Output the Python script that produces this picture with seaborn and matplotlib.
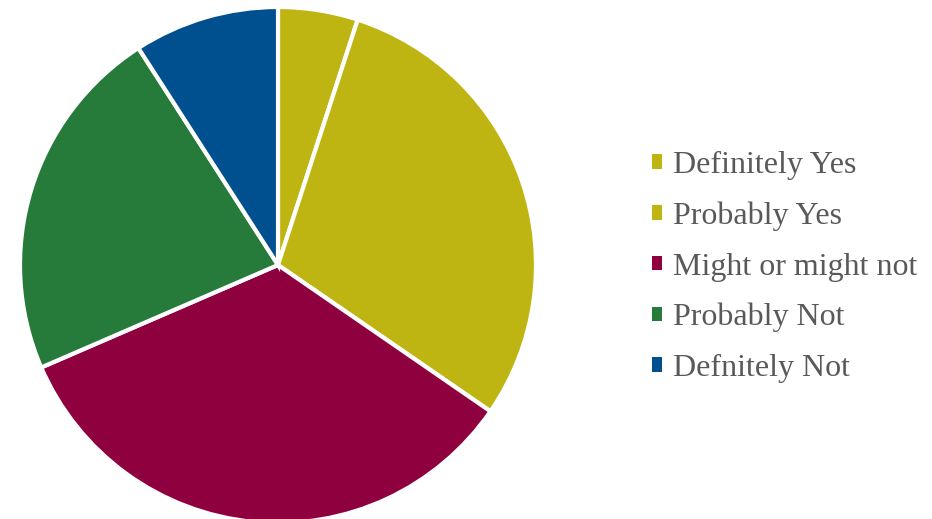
import matplotlib
matplotlib.use("Agg")
import matplotlib.pyplot as plt
from matplotlib.patches import Patch
import seaborn as sns

# Survey answers and their share of responses (%)
categories = ["Definitely Yes", "Probably Yes", "Might or might not", "Probably Not", "Defnitely Not"]
shares = [5.0, 29.6, 33.9, 22.4, 9.1]
colors = ["#BFB512", "#BFB512", "#8F003F", "#267A3A", "#00508F"]

sns.set_theme(style="white")
plt.rcParams["font.family"] = ["Liberation Serif", "DejaVu Serif"]

W, H = 932, 519
fig = plt.figure(figsize=(W / 100, H / 100), dpi=100)
fig.patch.set_facecolor("white")

cx, cy, r = 278, 265, 258
ax = fig.add_axes([(cx - r) / W, (H - cy - r) / H, 2 * r / W, 2 * r / H])
ax.pie(shares, colors=colors, startangle=90, counterclock=False, radius=1,
       wedgeprops=dict(edgecolor="white", linewidth=3))
ax.set_xlim(-1, 1)
ax.set_ylim(-1, 1)
ax.set_aspect("equal")
ax.axis("off")
for p in ax.patches:
    p.set_clip_on(False)

handles = [Patch(facecolor=c, edgecolor="none") for c in colors]
leg = fig.legend(handles, categories, loc="center left",
                 bbox_to_anchor=(652 / W, 1 - 267 / H), frameon=False,
                 fontsize=23, labelcolor="#595959",
                 handlelength=0.32, handleheight=0.32, handletextpad=0.35,
                 labelspacing=0.67, borderpad=0, borderaxespad=0)

fig.savefig("out.png", dpi=100, facecolor="white")
